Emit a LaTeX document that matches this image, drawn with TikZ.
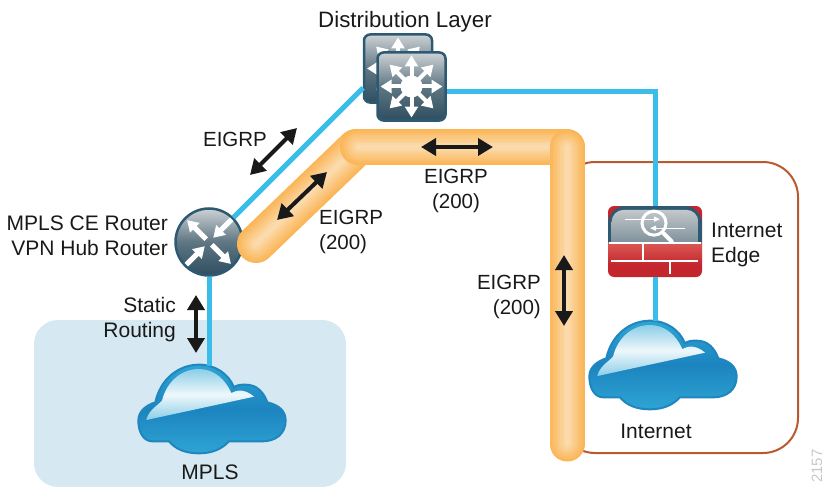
\documentclass[tikz,border=0pt]{standalone}
\usepackage{fontspec}
\setmainfont{Liberation Sans}
\usetikzlibrary{arrows.meta}

\definecolor{linkcyan}{HTML}{3BBDE9}
\definecolor{iconframe}{HTML}{2D5A72}
\definecolor{icondark}{HTML}{2E4E60}
\definecolor{iconmid}{HTML}{5F7683}
\definecolor{iconlight}{HTML}{CDD2D5}
\definecolor{tubedark}{HTML}{FBB658}
\definecolor{tubelight}{HTML}{FBDFB6}
\definecolor{panelblue}{HTML}{D6E8F1}
\definecolor{edgebrown}{HTML}{B85A2D}
\definecolor{cloudline}{HTML}{1F86BF}
\definecolor{cloudtop}{HTML}{2EA5D3}
\definecolor{cloudmid}{HTML}{1C84BF}
\definecolor{wallred}{HTML}{C4262E}
\definecolor{wallpale}{HTML}{DB5A55}

\tikzset{
  lbl/.style={font=\fontsize{21}{25}\selectfont, text=black!90, inner sep=0pt},
  eigrplbl/.style={lbl, font=\fontsize{20.5}{25}\selectfont},
  link/.style={draw=linkcyan, line width=5pt},
  routearrow/.style={draw=black!90, line width=4pt, {Triangle[length=15pt,width=17pt]}-{Triangle[length=15pt,width=17pt]}},
  switchbox/.style={rectangle, rounded corners=6pt, minimum size=68pt, inner sep=0pt, draw=iconframe, line width=2.5pt, top color=iconlight, bottom color=icondark, middle color=iconmid},
  routerbox/.style={circle, minimum size=67pt, inner sep=0pt, draw=iconframe, line width=2.5pt, top color=iconlight, bottom color=icondark, middle color=iconmid},
  firewallbox/.style={rectangle, rounded corners=6pt, minimum width=94pt, minimum height=71pt, inner sep=0pt, fill=wallred},
  cloudbox/.style={rectangle, minimum width=148pt, minimum height=88pt, inner sep=0pt},
  whitearrow/.style={draw=white, line width=4pt, -{Triangle[length=11pt,width=13pt]}},
  switcharrows/.pic={
    \foreach \a in {0,45,...,315}
      \draw[whitearrow] (\a:6) -- (\a:31);
    \fill[white] (0,0) circle (11);
  },
  routerarrows/.pic={
    \foreach \a in {45,225}
      \draw[whitearrow, line width=5pt] (\a:4) -- (\a:31);
    \foreach \a in {135,315}
      \draw[whitearrow, line width=5pt] (\a:32) -- (\a:6);
  },
  cloudicon/.pic={
    \begin{scope}[scale=1/3]
    \shade[draw=cloudline, line width=2pt, top color=cloudtop, bottom color=cloudtop, middle color=cloudmid]
      (-221,35) .. controls (-221,5) and (-195,-12) .. (-170,-20)
      .. controls (-155,-90) and (-100,-133) .. (-39,-133)
      .. controls (10,-133) and (50,-105) .. (66,-65)
      .. controls (75,-73) and (88,-73) .. (101,-73)
      .. controls (135,-73) and (155,-50) .. (166,-20)
      .. controls (200,-12) and (221,5) .. (221,35)
      .. controls (221,75) and (190,97) .. (151,97)
      -- (51,97)
      .. controls (30,120) and (0,133) .. (-39,133)
      .. controls (-80,133) and (-110,120) .. (-129,97)
      -- (-179,97)
      .. controls (-205,97) and (-221,70) .. (-221,35) -- cycle;
    \shade[top color=cloudtop!55, bottom color=cloudtop!55, middle color=cloudtop!8]
      (-197,33) .. controls (-190,5) and (-170,-5) .. (-150,-25)
      .. controls (-135,-85) and (-90,-120) .. (-39,-120)
      .. controls (5,-120) and (40,-90) .. (58,-48)
      .. controls (75,-58) and (100,-60) .. (126,-37) -- cycle;
    \end{scope}
  },
  firewallicon/.pic={
    \begin{scope}[scale=1/3]
    \begin{scope}
    \clip[rounded corners=18] (-141,-107) rectangle (141,107);
    \fill[iconframe] (-141,-107) rectangle (141,3);
    \shade[top color=wallpale, bottom color=wallred] (-141,3) rectangle (141,70);
    \end{scope}
    \begin{scope}
    \clip[rounded corners=12] (-130,-95) rectangle (130,40);
    \shade[top color=iconlight!95!black, bottom color=iconmid!80] (-130,-95) rectangle (130,3);
    \end{scope}
    \draw[white, line width=2pt] (-138,4) -- (138,4);
    \draw[white, line width=2pt] (-35,4) -- (-35,57);
    \draw[white, line width=2pt] (-132,57) -- (130,57);
    \draw[white, line width=2pt] (45,57) -- (45,97);
    % lens
    \draw[white, line width=3pt] (-3,-55) circle (36);
    \draw[white, line width=4pt, line cap=round] (25,-25) -- (50,0);
    \draw[white, line width=1pt, -{Triangle[length=6pt,width=5pt]}] (-90,-67) -- (15,-67);
    \draw[white, line width=1pt, -{Triangle[length=6pt,width=5pt]}] (90,-40) -- (-15,-40);
    \end{scope}
  }
}

\newcommand{\drawtube}[2]{%
  \foreach \i [evaluate=\i as \p using int(\i*10), evaluate=\i as \w using #2-#2*\i/10] in {0,...,9}
    \draw[tubelight!\p!tubedark, line width=\w pt, line cap=round] #1;
}

\begin{document}
\begin{tikzpicture}[x=1pt, y=-1pt]
\useasboundingbox (0,0) rectangle (825,487);

%definitions
\def\diagtube{(256,244) -- (356,148)}
\def\toptube{(358,147) -- (567,147)}
\def\sidetube{(567,147) -- (567,444)}

%panels
\fill[panelblue, rounded corners=24pt] (34,320) rectangle (346,487);
\draw[edgebrown, line width=2pt, rounded corners=35pt] (560,162) rectangle (798,453);

%devices
\node[switchbox] (distback) at (398,68.5) {};
\pic at (distback) {switcharrows};
\node[switchbox] (distfront) at (411.5,86.5) {};
\pic at (distfront) {switcharrows};
\node[routerbox] (hub) at (209,242) {};
\pic at (hub) {routerarrows};
\node[firewallbox] (edge) at (655,241.5) {};
\pic at (edge) {firewallicon};
\node[cloudbox] (internet) at (663,365) {};
\pic at (internet) {cloudicon};
\node[cloudbox] (mpls) at (212,409) {};
\pic at (mpls) {cloudicon};

%links
\coordinate (distin) at (363,88);
\draw[link] (hub.45) -- (distin);
\draw[link] ([yshift=-5pt]distfront.east) -| (edge.north);
\draw[link] (edge.south) -- (edge.south |- 0,321);
\draw[link] (hub.south) -- (hub.south |- 0,366);

%tubes
\drawtube{\diagtube}{38}
\drawtube{\toptube}{36}
\drawtube{\sidetube}{35}

%arrows
\coordinate (a1) at (250,175);
\coordinate (a2) at (297,128);
\coordinate (b1) at (277,220);
\coordinate (b2) at (327,172);
\coordinate (c1) at (421,147);
\coordinate (c2) at (493,147);
\coordinate (d1) at (564,255);
\coordinate (d2) at (564,326);
\coordinate (e1) at (196,295);
\coordinate (e2) at (196,353);
\draw[routearrow] (a1) -- (a2);
\draw[routearrow] (b1) -- (b2);
\draw[routearrow] (c1) -- (c2);
\draw[routearrow] (d1) -- (d2);
\draw[routearrow] (e1) -- (e2);

%labels
\node[lbl, font=\fontsize{22.3}{25}\selectfont] (distlabel) at (405,22) {Distribution Layer};
\node[eigrplbl] (eigrptop) at (235,139) {EIGRP};
\node[lbl, align=right, anchor=east] (hublabel) at (168,236) {MPLS CE Router\\VPN Hub Router};
\node[eigrplbl, align=left, anchor=west] (eigrpdiag) at (319,232) {EIGRP\\(200)};
\node[eigrplbl, align=center] (eigrpmid) at (456,191) {EIGRP\\(200)};
\node[eigrplbl, align=right, anchor=east] (eigrpside) at (541,297) {EIGRP\\(200)};
\node[lbl, align=right, anchor=east] (staticlabel) at (176,320) {Static\\Routing};
\node[lbl, align=left, anchor=west] (edgelabel) at (711,245) {Internet\\Edge};
\node[lbl] (internetlabel) at (656,431) {Internet};
\node[lbl] (mplslabel) at (210,472) {MPLS};
\node[font=\fontsize{15}{15}\selectfont, text=black!22, rotate=90, anchor=west, inner sep=0pt] (figno) at (817,483) {2157};
\end{tikzpicture}
\end{document}
